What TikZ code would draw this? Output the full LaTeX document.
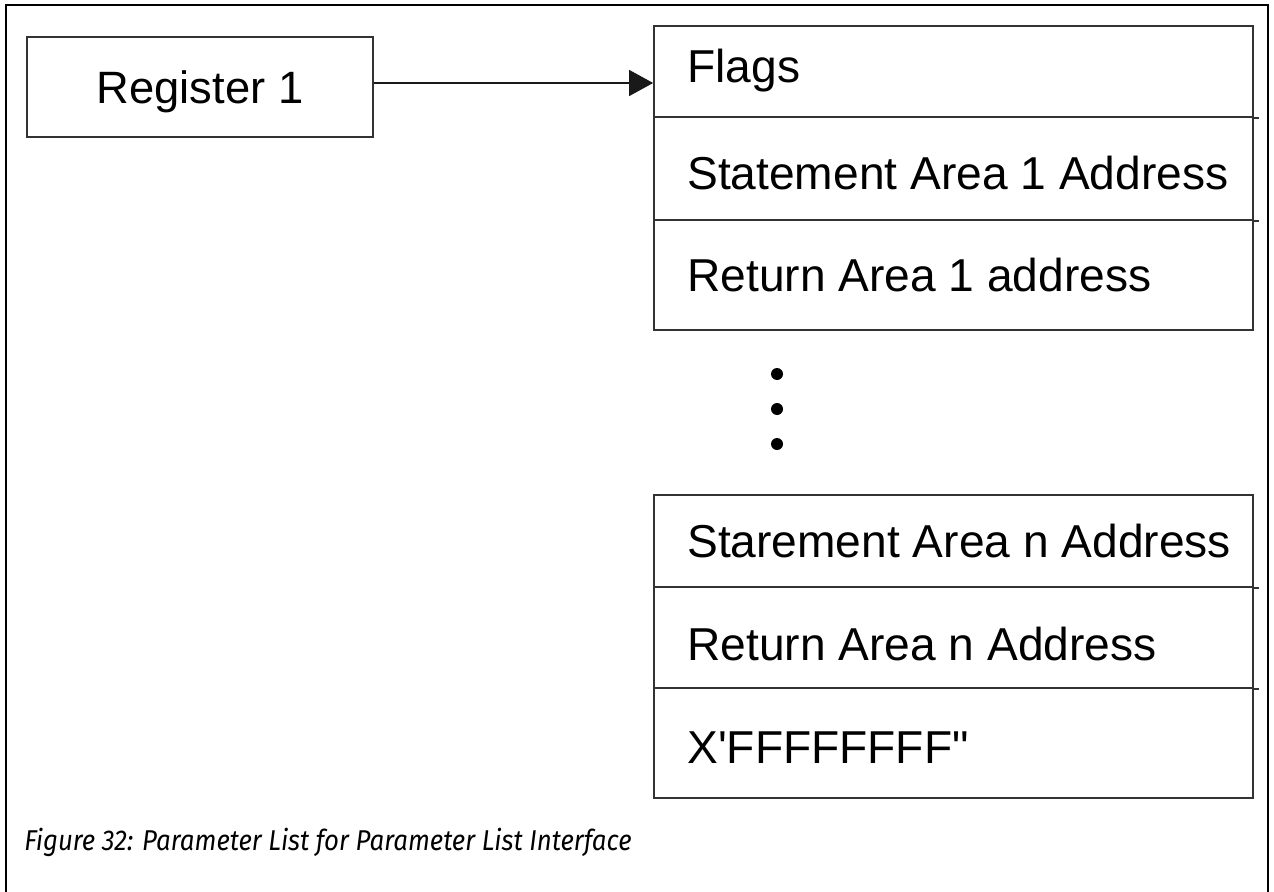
\documentclass[tikz,border=0pt]{standalone}
\usepackage{fontspec}
\setmainfont{Liberation Sans}[Ligatures=TeXOff]
\newfontfamily\capfont{Fira Sans}
\usetikzlibrary{arrows.meta}
\tikzset{
  line/.style={draw=black!80, line width=1.3pt},
  regbox/.style={line, minimum width=259.5pt, minimum height=75pt, inner sep=0pt,
    text height=24.4pt, text depth=0pt, font=\fontsize{34}{40}\selectfont},
  rowbox/.style={line, minimum width=449.25pt, minimum height=#1, inner sep=0pt},
  rowtxt/.style={anchor=west, inner sep=0pt, text height=24.8pt, text depth=0pt,
    font=\fontsize{34.6}{40}\selectfont},
  ext/.style={line},
  dot/.style={fill=black},
  captxt/.style={anchor=west, inner sep=0pt, font=\capfont\itshape\fontsize{21.5}{24}\selectfont},
  conn/.style={draw=black!90, line width=1pt, -{Triangle[length=18pt,width=19.5pt]}}
}
\begin{document}
\begin{tikzpicture}[x=0.75pt,y=-0.75pt]
\useasboundingbox (0,0) rectangle (1274,892);
\draw[line width=2.2pt] (6,892) -- (6,5) -- (1268,5) -- (1268,892);

\node[regbox] (reg) at (200,87) {Register 1};

\node[rowbox=68.25pt] (r1) at (953.5,71.5) {};
\node[rowbox=77.25pt] (r2) at (953.5,168.5) {};
\node[rowbox=82.5pt] (r3) at (953.5,275) {};
\node[rowbox=69pt] (r4) at (953.5,541) {};
\node[rowbox=75.75pt] (r5) at (953.5,637.5) {};
\node[rowbox=82.5pt] (r6) at (953.5,743) {};

\node[rowtxt] (t1) at (687,66) {Flags};
\node[rowtxt] (t2) at (687,173) {Statement Area 1 Address};
\node[rowtxt] (t3) at (687,275) {Return Area 1 address};
\node[rowtxt] (t4) at (687,540.5) {Starement Area n Address};
\node[rowtxt] (t5) at (687,643.5) {Return Area n Address};
\node[rowtxt] (t6) at (687,746.5) {X'FFFFFFFF"};

\draw[ext] (r1.south east) -- ++(5,0);
\draw[ext] (r2.south east) -- ++(5,0);
\draw[ext] (r4.south east) -- ++(5,0);
\draw[ext] (r5.south east) -- ++(5,0);

\coordinate (tip) at (r1.west |- 0,83);
\draw[conn] (reg.east |- tip) -- (tip);

\fill[dot] (777,374) circle[radius=4.5pt];
\fill[dot] (777,409) circle[radius=4.5pt];
\fill[dot] (777,444) circle[radius=4.5pt];

\node[captxt] (cap) at (24,842) {\scalebox{0.9}[1]{Figure 32: Parameter List for Parameter List Interface}};
\end{tikzpicture}
\end{document}
